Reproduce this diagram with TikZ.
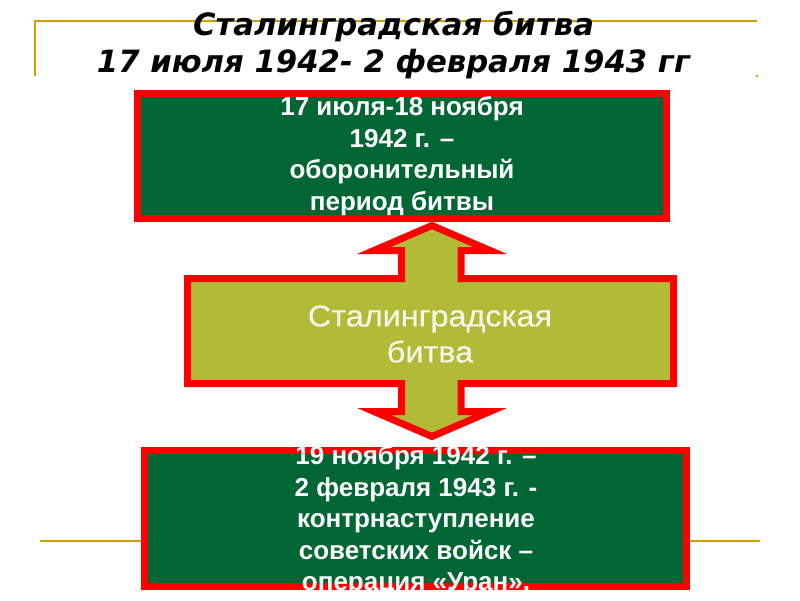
\documentclass[tikz,border=0pt]{standalone}
\usepackage{fontspec}
\setmainfont{Liberation Sans}
\newfontfamily\titlefont{DejaVu Sans}
\newfontfamily\midfont[FakeStretch=1.08,FakeBold=0.5]{Liberation Sans}

\definecolor{boxgreen}{RGB}{0,102,51}
\definecolor{battleolive}{RGB}{178,187,56}
\definecolor{goldline}{RGB}{204,160,0}
\definecolor{cream}{RGB}{245,245,232}

\begin{document}
\begin{tikzpicture}[x=1pt,y=-1pt,
    greenbox/.style={draw=red, line width=7pt, fill=boxgreen, inner sep=0pt},
    boxtext/.style={text=white, font=\bfseries\fontsize{26}{31.5}\selectfont, align=center, inner sep=0pt},
    gold/.style={draw=goldline, line width=2pt}]
    \useasboundingbox (0,0) rectangle (800,600);

    % Frame lines of the slide
    \draw[gold] (35,76) -- (35,21) -- (757,21);
    \fill[goldline] (756,75) rectangle (758,77);
    \draw[gold] (40,541) -- (145,541);
    \draw[gold] (690,541) -- (760,541);

    % Title
    \node[font=\titlefont\bfseries\itshape\fontsize{30.7}{37}\selectfont, align=center, inner sep=0pt] (title) at (393.5,45.5)
        {Сталинградская битва\\17 июля 1942- 2 февраля 1943 гг};

    % Up-down arrow with the central block
    \draw[red, line width=7pt, fill=battleolive]
        (432,225.5) -- (490,250.5) -- (461,250.5) -- (461,278.5) -- (673.5,278.5) -- (673.5,383.5)
        -- (461,383.5) -- (461,411.5) -- (490,411.5) -- (432,436.5) -- (374,411.5)
        -- (401.5,411.5) -- (401.5,383.5) -- (187.5,383.5) -- (187.5,278.5) -- (401.5,278.5)
        -- (401.5,250.5) -- (374,250.5) -- cycle;
    \node[text=cream, font=\midfont\fontsize{30}{36}\selectfont, align=center, inner sep=0pt] (midtext) at (430,334)
        {Сталинградская\\битва};

    % Periods
    \node[greenbox, minimum width=529pt, minimum height=125pt] (topbox) at (402,156) {};
    \node[boxtext] (toptext) at (topbox.center)
        {17 июля-18 ноября\\1942 г. –\\оборонительный\\период битвы};

    \node[greenbox, minimum width=542pt, minimum height=136pt] (botbox) at (415.5,518.5) {};
    \node[boxtext] (bottext) at (416,521)
        {19 ноября 1942 г. –\\2 февраля 1943 г. -\\контрнаступление\\советских войск –\\операция «Уран».};
\end{tikzpicture}
\end{document}
